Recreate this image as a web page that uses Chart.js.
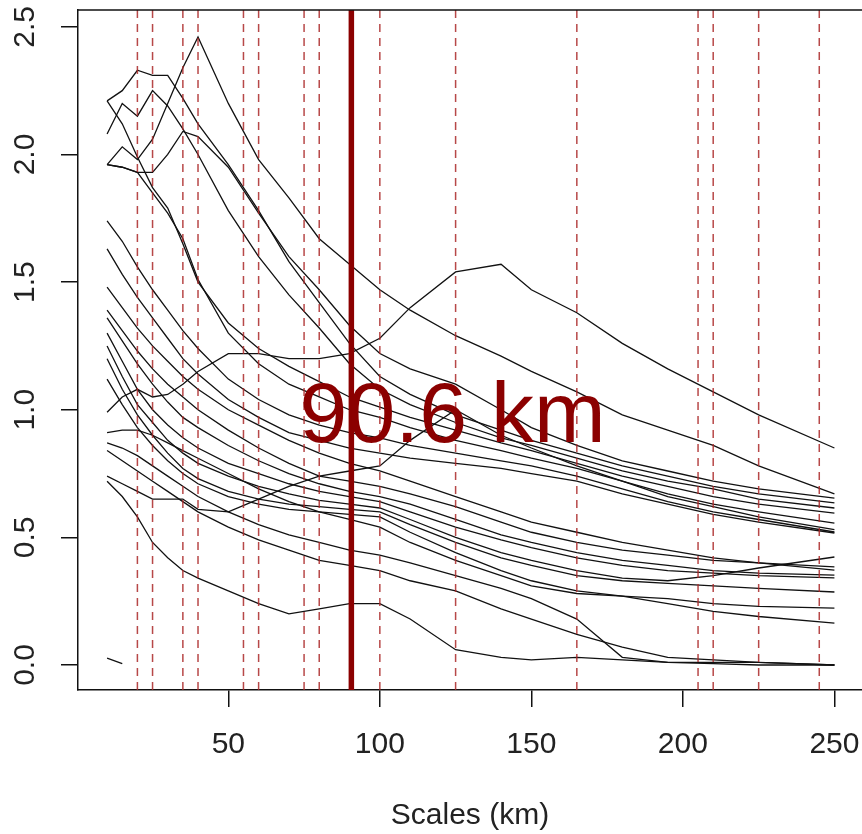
<!DOCTYPE html>
<html>
<head>
<meta charset="utf-8">
<script src="https://cdn.jsdelivr.net/npm/chart.js@4"></script>
<style>
  html, body { margin: 0; padding: 0; background: #fff; overflow: hidden; }
</style>
</head>
<body>
<canvas id="chart" width="862" height="834"></canvas>
<script>
// scales (km) at which every curve is sampled
const scalesKm = [10, 15, 20, 25, 30, 35, 40, 50, 60, 70, 80, 90, 100, 110, 125, 140, 150, 165, 180, 195, 210, 225, 250];

const peak  = [1.96, 2.03, 1.98, 2.06, 2.20, 2.34, 2.46, 2.20, 1.98, 1.83, 1.67, 1.57, 1.47, 1.39, 1.29, 1.21, 1.15, 1.07, 0.98, 0.92, 0.86, 0.78, 0.67];
const hump  = [0.99, 1.05, 1.08, 1.05, 1.06, 1.10, 1.15, 1.22, 1.22, 1.20, 1.20, 1.22, 1.28, 1.40, 1.54, 1.57, 1.47, 1.38, 1.26, 1.16, 1.07, 0.98, 0.85];
const lineA = [1.96, 1.95, 1.93, 1.93, 2.00, 2.09, 2.07, 1.95, 1.77, 1.60, 1.47, 1.33, 1.22, 1.16, 1.10, 1.00, 0.93, 0.86, 0.80, 0.76, 0.72, 0.69, 0.654];
const lineB = [2.21, 2.25, 2.33, 2.31, 2.31, 2.22, 2.12, 1.96, 1.78, 1.58, 1.42, 1.26, 1.13, 1.06, 0.98, 0.92, 0.88, 0.83, 0.78, 0.74, 0.70, 0.67, 0.635];
const lineC = [2.08, 2.20, 2.15, 2.25, 2.19, 2.10, 2.00, 1.78, 1.60, 1.45, 1.32, 1.18, 1.08, 1.02, 0.95, 0.89, 0.86, 0.81, 0.76, 0.72, 0.69, 0.65, 0.615];
const lineD = [2.21, 2.12, 1.99, 1.87, 1.79, 1.65, 1.50, 1.34, 1.24, 1.17, 1.11, 1.05, 1.01, 0.97, 0.92, 0.87, 0.84, 0.79, 0.74, 0.70, 0.66, 0.63, 0.595];
const lineE = [1.96, 1.95, 1.93, 1.85, 1.77, 1.67, 1.51, 1.30, 1.18, 1.10, 1.05, 1.00, 0.97, 0.93, 0.88, 0.84, 0.81, 0.77, 0.72, 0.67, 0.63, 0.60, 0.556];
const lineF = [1.74, 1.66, 1.56, 1.47, 1.39, 1.31, 1.24, 1.12, 1.04, 0.98, 0.94, 0.91, 0.89, 0.86, 0.83, 0.80, 0.78, 0.74, 0.69, 0.64, 0.60, 0.57, 0.521];
const lineG = [1.63, 1.53, 1.44, 1.36, 1.28, 1.20, 1.14, 1.04, 0.97, 0.91, 0.88, 0.85, 0.83, 0.81, 0.79, 0.77, 0.75, 0.72, 0.67, 0.63, 0.59, 0.56, 0.517];
const lineR = [0.74, 0.71, 0.68, 0.65, 0.65, 0.65, 0.61, 0.60, 0.65, 0.70, 0.74, 0.76, 0.78, 0.88, 1.00, 0.90, 0.85, 0.78, 0.72, 0.66, 0.62, 0.58, 0.53];
const lineH = [1.48, 1.40, 1.32, 1.25, 1.19, 1.13, 1.08, 1.00, 0.94, 0.88, 0.83, 0.79, 0.76, 0.72, 0.66, 0.60, 0.56, 0.52, 0.48, 0.45, 0.42, 0.40, 0.372];
const lineI = [1.39, 1.31, 1.23, 1.16, 1.10, 1.05, 1.00, 0.92, 0.85, 0.79, 0.74, 0.72, 0.70, 0.67, 0.62, 0.56, 0.52, 0.48, 0.45, 0.43, 0.41, 0.40, 0.384];
const lineJ = [1.36, 1.27, 1.18, 1.10, 1.03, 0.97, 0.93, 0.86, 0.80, 0.75, 0.71, 0.68, 0.66, 0.63, 0.57, 0.51, 0.48, 0.44, 0.41, 0.39, 0.37, 0.36, 0.352];
const lineK = [1.30, 1.19, 1.08, 1.00, 0.94, 0.89, 0.85, 0.79, 0.75, 0.71, 0.68, 0.66, 0.64, 0.60, 0.54, 0.49, 0.46, 0.42, 0.39, 0.37, 0.36, 0.35, 0.341];
const lineL = [1.25, 1.13, 1.02, 0.95, 0.88, 0.83, 0.79, 0.74, 0.70, 0.67, 0.645, 0.63, 0.615, 0.57, 0.50, 0.44, 0.41, 0.37, 0.34, 0.33, 0.35, 0.38, 0.423];
const lineM = [1.20, 1.08, 0.98, 0.90, 0.83, 0.77, 0.73, 0.68, 0.65, 0.63, 0.62, 0.61, 0.60, 0.55, 0.48, 0.42, 0.39, 0.35, 0.33, 0.32, 0.31, 0.30, 0.286];
const lineN = [1.12, 1.02, 0.93, 0.86, 0.80, 0.75, 0.71, 0.66, 0.63, 0.61, 0.60, 0.59, 0.58, 0.52, 0.44, 0.37, 0.33, 0.29, 0.27, 0.24, 0.21, 0.19, 0.164];
const lineO = [0.91, 0.92, 0.92, 0.90, 0.87, 0.84, 0.81, 0.75, 0.69, 0.64, 0.60, 0.57, 0.54, 0.48, 0.41, 0.35, 0.31, 0.28, 0.27, 0.26, 0.24, 0.23, 0.223];
const lineP = [0.87, 0.85, 0.82, 0.78, 0.74, 0.70, 0.66, 0.60, 0.55, 0.51, 0.48, 0.45, 0.43, 0.40, 0.35, 0.30, 0.26, 0.18, 0.03, 0.01, 0.005, 0.0, 0.0];
const lineQ = [0.84, 0.80, 0.76, 0.72, 0.68, 0.64, 0.60, 0.54, 0.49, 0.45, 0.41, 0.39, 0.37, 0.33, 0.29, 0.22, 0.18, 0.12, 0.07, 0.03, 0.02, 0.01, 0.0];
const lineLow = [0.72, 0.66, 0.58, 0.48, 0.42, 0.37, 0.34, 0.29, 0.24, 0.20, 0.22, 0.24, 0.24, 0.18, 0.06, 0.03, 0.02, 0.03, 0.02, 0.01, 0.01, 0.01, 0.0];

// short stub at the bottom-left
const stubKm = [10, 15];
const stubVal = [0.027, 0.005];

const curves = [peak, hump, lineA, lineB, lineC, lineD, lineE, lineF, lineG, lineR,
                lineH, lineI, lineJ, lineK, lineL, lineM, lineN, lineO, lineP, lineQ, lineLow];

// candidate scales (dashed) and the selected one
const candidateKm = [20, 25, 35, 40, 55, 60, 75, 80, 100, 125, 165, 205, 210, 225, 245];
const selectedKm = 90.6;
const selectedLabel = '90.6 km';

const xTicks = [50, 100, 150, 200, 250];
const yTicks = [0, 0.5, 1.0, 1.5, 2.0, 2.5];

const X_MIN = 0.4, X_MAX = 259.1, Y_MIN = -0.098, Y_MAX = 2.566;
const FONT = '"Liberation Sans", Arial, sans-serif';

const datasets = [];
datasets.push({
    data: [{ x: selectedKm, y: Y_MIN }, { x: selectedKm, y: Y_MAX }],
    borderColor: '#8b0000', borderWidth: 5.5
});
candidateKm.forEach(k => datasets.push({
    data: [{ x: k, y: Y_MIN }, { x: k, y: Y_MAX }],
    borderColor: 'rgba(170,40,40,0.85)', borderWidth: 1.5, borderDash: [8, 6]
}));
curves.forEach(c => datasets.push({
    data: scalesKm.map((x, i) => ({ x, y: c[i] })),
    borderColor: '#111', borderWidth: 1.3
}));
datasets.push({
    data: stubKm.map((x, i) => ({ x, y: stubVal[i] })),
    borderColor: '#111', borderWidth: 1.3
});

const boxAndText = {
    id: 'boxAndText',
    afterDraw(chart) {
        const { ctx, chartArea: a, scales: { x, y } } = chart;
        ctx.save();
        // top edge of the box
        ctx.strokeStyle = '#111';
        ctx.lineWidth = 1.5;
        ctx.beginPath();
        ctx.moveTo(a.left, a.top);
        ctx.lineTo(a.right, a.top);
        ctx.stroke();
        // rotated y tick labels
        ctx.fillStyle = '#222';
        ctx.font = '30px ' + FONT;
        ctx.textAlign = 'center';
        ctx.textBaseline = 'middle';
        yTicks.forEach(v => {
            ctx.save();
            ctx.translate(26, y.getPixelForValue(v));
            ctx.rotate(-Math.PI / 2);
            ctx.fillText(v.toFixed(1), 0, 0);
            ctx.restore();
        });
        // label of the selected scale
        ctx.fillStyle = '#8b0000';
        ctx.font = '86px ' + FONT;
        ctx.fillText(selectedLabel, x.getPixelForValue(124), y.getPixelForValue(0.965));
        ctx.restore();
    }
};

new Chart(document.getElementById('chart'), {
    type: 'scatter',
    data: { datasets },
    options: {
        responsive: false,
        animation: false,
        events: [],
        showLine: true,
        elements: { point: { radius: 0 }, line: { tension: 0 } },
        layout: { padding: { top: 10, right: 0, bottom: 0, left: 0 } },
        plugins: { legend: { display: false }, tooltip: { enabled: false } },
        scales: {
            x: {
                type: 'linear', min: X_MIN, max: X_MAX,
                afterBuildTicks: s => { s.ticks = xTicks.map(v => ({ value: v })); },
                afterFit: s => { s.height = 144; s.paddingLeft = 0; s.paddingRight = 0; },
                grid: { drawOnChartArea: false, drawTicks: true, tickLength: 17, color: '#111', lineWidth: 1.5 },
                border: { display: true, color: '#111', width: 1.5 },
                ticks: { color: '#222', padding: 20, maxRotation: 0, font: { family: FONT, size: 30 } },
                title: { display: true, text: 'Scales (km)', color: '#222', padding: { top: 0, bottom: 0 }, font: { family: FONT, size: 30 } }
            },
            y: {
                type: 'linear', min: Y_MIN, max: Y_MAX,
                afterBuildTicks: s => { s.ticks = yTicks.map(v => ({ value: v })); },
                afterFit: s => { s.width = 78; s.paddingTop = 0; s.paddingBottom = 0; },
                grid: { drawOnChartArea: false, drawTicks: true, tickLength: 17, color: '#111', lineWidth: 1.5 },
                border: { display: true, color: '#111', width: 1.5 },
                ticks: { display: false }
            }
        }
    },
    plugins: [boxAndText]
});
</script>
</body>
</html>
